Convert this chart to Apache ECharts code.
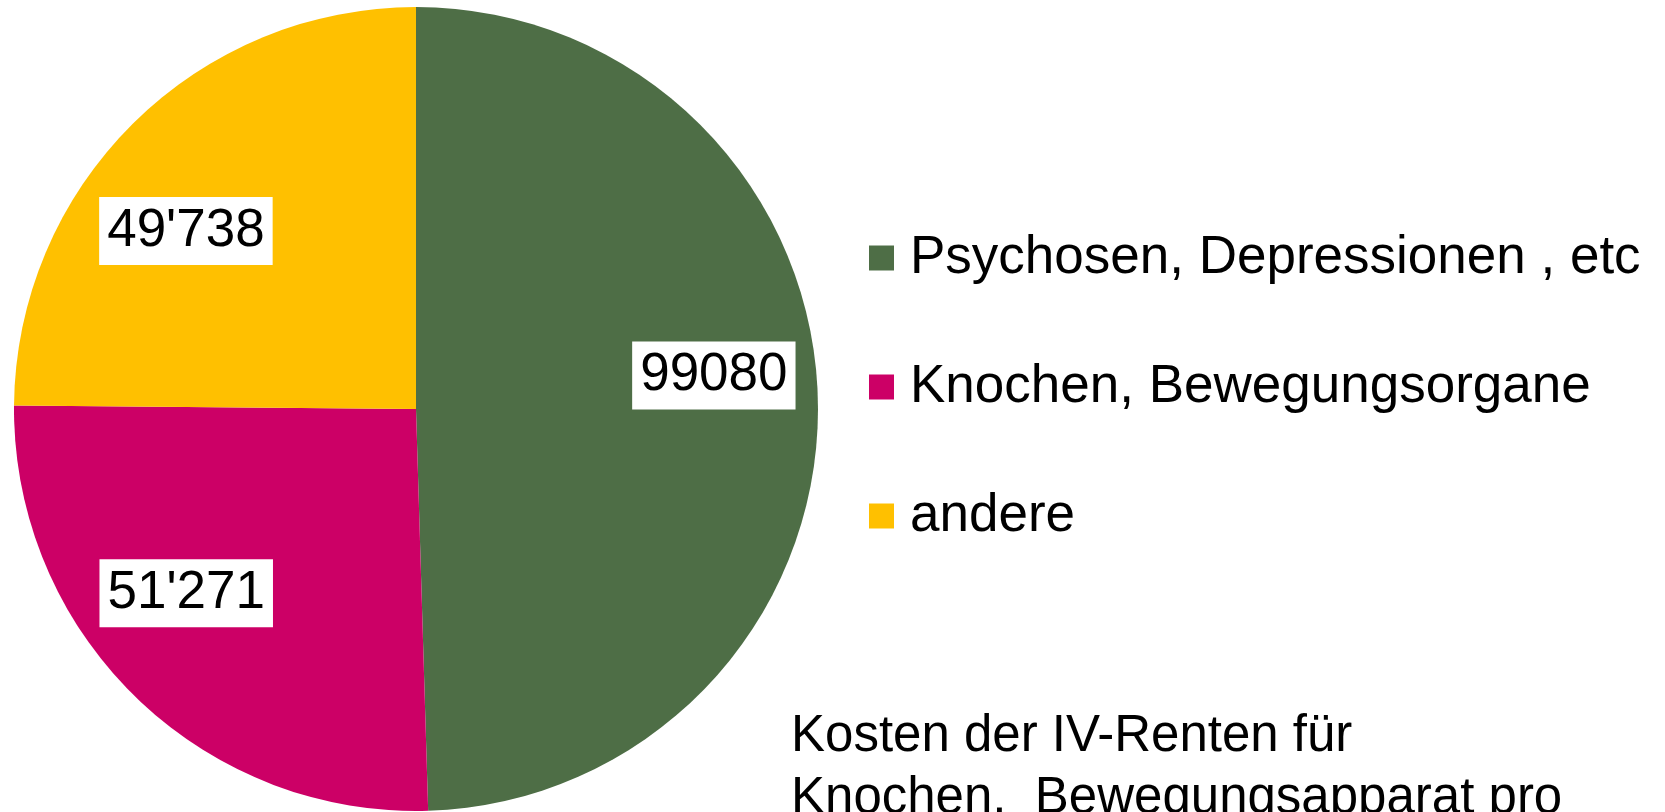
<!DOCTYPE html>
<html>
<head>
<meta charset="utf-8">
<script src="https://cdn.jsdelivr.net/npm/echarts@6/dist/echarts.min.js"></script>
<style>
html,body{margin:0;padding:0;background:#fff;}
#c{width:1665px;height:812px;}
</style>
</head>
<body>
<div id="c"></div>
<script>
const categories = ['Psychosen, Depressionen , etc', 'Knochen, Bewegungsorgane', 'andere'];
const values = [99080, 51271, 49738];
const valueLabels = ['99080', "51'271", "49'738"];
const colors = ['#4E6E46', '#CC0066', '#FFC000'];
const titleText = 'Kosten der IV-Renten für\nKnochen,  Bewegungsapparat pro';

const FONT = '"Liberation Sans", Arial, sans-serif';
const cx = 416, cy = 409, R = 402;
const labelScale = 1.47;
// small label nudges (style, in px) to mimic the original placement
const labelNudge = [[-2, -29], [-20, -30], [-19, 35]];

const chart = echarts.init(document.getElementById('c'), null, {renderer: 'canvas'});
chart.setOption({
  animation: false,
  backgroundColor: '#ffffff',
  color: colors,
  title: {
    text: titleText,
    left: 791,
    top: 706,
    padding: 0,
    textStyle: {fontFamily: FONT, fontSize: 51, lineHeight: 62, fontWeight: 'normal', color: '#000'}
  },
  legend: {
    orient: 'vertical',
    left: 869,
    top: 228,
    itemWidth: 25,
    itemHeight: 25,
    itemGap: 69,
    icon: 'rect',
    padding: 0,
    data: categories,
    textStyle: {fontFamily: FONT, fontSize: 53, lineHeight: 60, color: '#000', padding: [0, 0, 0, 11]}
  },
  series: [{
    type: 'pie',
    center: [cx, cy],
    radius: [0, R],
    startAngle: 90,
    clockwise: true,
    silent: true,
    avoidLabelOverlap: false,
    itemStyle: {borderWidth: 0},
    label: {
      show: true,
      position: 'inside',
      formatter: (p) => valueLabels[p.dataIndex],
      fontFamily: FONT,
      fontSize: 53,
      lineHeight: 60,
      color: '#000',
      backgroundColor: '#fff',
      padding: [4, 8]
    },
    labelLine: {show: false},
    labelLayout: function (p) {
      const r = p.labelRect;
      const lx = r.x + r.width / 2, ly = r.y + r.height / 2;
      const n = labelNudge[p.dataIndex] || [0, 0];
      return {x: cx + (lx - cx) * labelScale + n[0], y: cy + (ly - cy) * labelScale + n[1]};
    },
    data: categories.map((n, i) => ({name: n, value: values[i]}))
  }]
});
</script>
</body>
</html>
